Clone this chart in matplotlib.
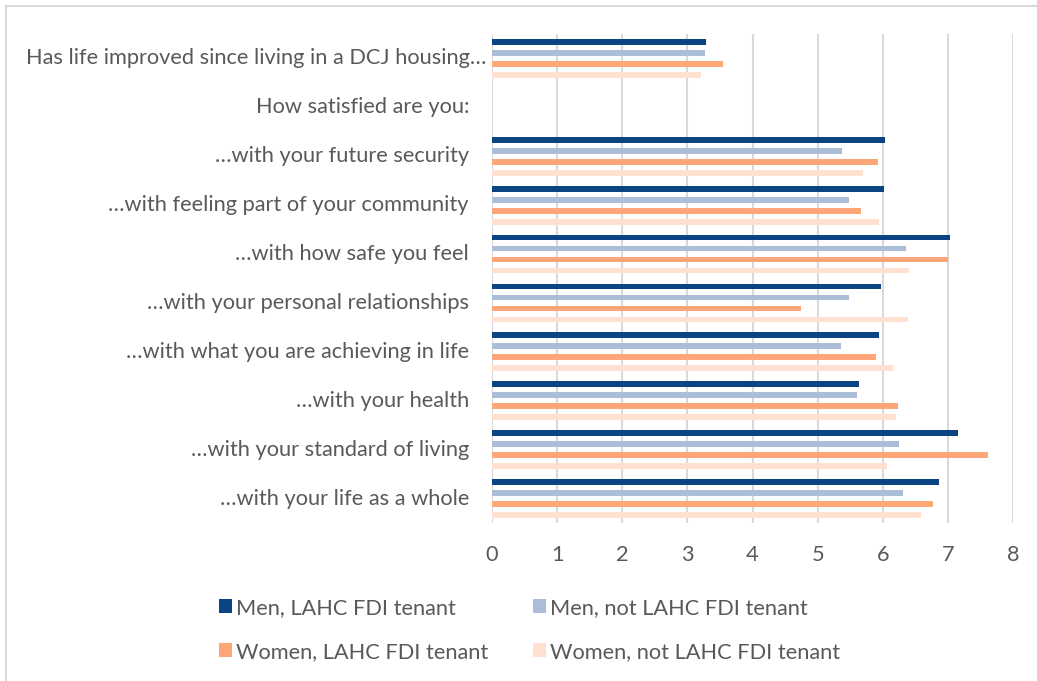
import matplotlib.pyplot as plt
import matplotlib.transforms as mtransforms
from matplotlib.patches import Patch, Rectangle
import numpy as np

# survey questions, top to bottom
questions = [
    'Has life improved since living in a DCJ housing\u2026',
    'How satisfied are you:',
    '\u2026with your future security',
    '\u2026with feeling part of your community',
    '\u2026with how safe you feel',
    '\u2026with your personal relationships',
    '\u2026with what you are achieving in life',
    '\u2026with your health',
    '\u2026with your standard of living',
    '\u2026with your life as a whole',
]

series_names = ['Men, LAHC FDI tenant', 'Men, not LAHC FDI tenant',
                'Women, LAHC FDI tenant', 'Women, not LAHC FDI tenant']

# mean scores (nan = heading row with no bars)
men_lahc = [3.28, np.nan, 6.03, 6.02, 7.04, 5.98, 5.95, 5.63, 7.15, 6.86]
men_not = [3.27, np.nan, 5.38, 5.48, 6.35, 5.48, 5.36, 5.61, 6.25, 6.31]
women_lahc = [3.54, np.nan, 5.92, 5.66, 7.00, 4.75, 5.89, 6.24, 7.61, 6.77]
women_not = [3.21, np.nan, 5.70, 5.94, 6.41, 6.39, 6.16, 6.20, 6.06, 6.58]

colors = ['#0C4383', '#ABBDD7', '#FFA679', '#FFE0D1']
text_col = '#595959'

plt.rcParams['font.family'] = ['Lato', 'DejaVu Sans']
fs = 15.7

fig = plt.figure(figsize=(10.37, 6.81), dpi=100)
ax = fig.add_axes([492 / 1037, 1 - 523 / 681, 521 / 1037, 489 / 681])

# outer chart frame (only top and left edge fall inside the image)
fig.patches.append(Rectangle((6 / 1037, -0.1), 1.2, 1 - 6 / 681 + 0.1,
                             transform=fig.transFigure, fill=False,
                             edgecolor='#D9D9D9', linewidth=1.5))

y = np.arange(len(questions))
pitch = 0.225
height = 0.118
all_series = [men_lahc, men_not, women_lahc, women_not]
for i, vals in enumerate(all_series):
    ax.barh(y + (i - 1.5) * pitch, vals, height=height, color=colors[i],
            label=series_names[i], zorder=3)

ax.set_xlim(0, 8)
ax.set_ylim(len(questions) - 0.5, -0.5)
ax.set_xticks(range(0, 9))
ax.set_yticks([])
ax.grid(axis='x', color='#D9D9D9', linewidth=1.5, zorder=0)
ax.tick_params(axis='x', length=0, pad=16, labelsize=fs, labelcolor=text_col)
for s in ax.spines.values():
    s.set_visible(False)

# category labels, right aligned left of the plot area
for i, q in enumerate(questions):
    dx = -6 if i == 0 else -23
    off = mtransforms.ScaledTranslation(dx / 100, 0, fig.dpi_scale_trans)
    trans = mtransforms.blended_transform_factory(ax.transAxes, ax.transData) + off
    ax.text(0, i, q, transform=trans, ha='right', va='center',
            fontsize=fs, color=text_col)

# legend filled column by column, so order the entries to read row by row
order = [0, 2, 1, 3]
handles = [Patch(facecolor=colors[k], edgecolor='none') for k in order]
labels = [series_names[k] for k in order]
fig.legend(handles, labels, ncol=2, loc='upper left',
           bbox_to_anchor=(199 / 1037, 1 - 578 / 681), frameon=False,
           fontsize=fs, labelcolor=text_col, handlelength=0.6,
           handleheight=0.6, handletextpad=0.2, columnspacing=2.05,
           labelspacing=1.1)

fig.savefig('out.png', dpi=100)
